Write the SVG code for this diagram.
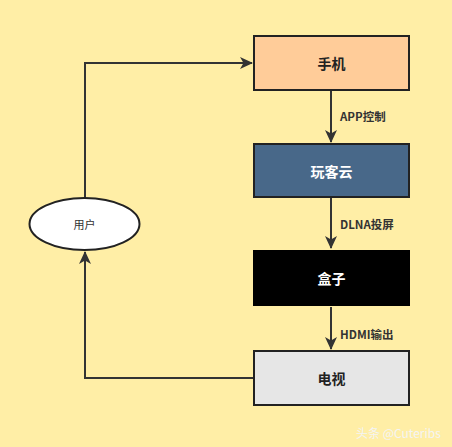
<svg xmlns="http://www.w3.org/2000/svg" width="452" height="447" viewBox="0 0 452 447">
<defs>
<style>
.box{stroke:#222;stroke-width:2}
.lbl{font-family:"Noto Sans CJK SC","Liberation Sans",sans-serif;font-weight:bold;font-size:14px;text-anchor:middle;dominant-baseline:central}
.elbl{font-family:"Noto Sans CJK SC","Liberation Sans",sans-serif;font-weight:bold;font-size:11.5px;fill:#333;dominant-baseline:central}
.edge{fill:none;stroke:#333;stroke-width:2}
.arrow{marker-end:url(#arr)}
</style>
<marker id="arr" viewBox="0 0 13 12" refX="12" refY="6" markerWidth="13" markerHeight="12" markerUnits="userSpaceOnUse" orient="auto">
<path d="M0,0 L13,6 L0,12 L3.5,6 Z" fill="#333"/>
</marker>
</defs>
<rect width="452" height="447" fill="#FFEEA6"/>
<g id="connectors">
<path class="edge arrow" d="M85,198 V63 H252"/>
<line class="edge arrow" x1="331" y1="91" x2="331" y2="142"/>
<line class="edge arrow" x1="331" y1="198" x2="331" y2="248"/>
<line class="edge arrow" x1="331" y1="307" x2="331" y2="349"/>
<path class="edge arrow" d="M253,378 H85 V252"/>
<text class="elbl" x="340" y="116">APP控制</text>
<text class="elbl" x="340" y="224">DLNA投屏</text>
<text class="elbl" x="340" y="334">HDMI输出</text>
</g>
<g id="node-phone">
<rect class="box" x="254" y="36" width="155" height="54" fill="#FFCC99"/>
<text class="lbl" x="331.5" y="63" fill="#222">手机</text>
</g>
<g id="node-wankeyun">
<rect class="box" x="254" y="144" width="155" height="53" fill="#486889"/>
<text class="lbl" x="331.5" y="171" fill="#fff">玩客云</text>
</g>
<g id="node-box">
<rect x="253" y="250" width="157" height="56" fill="#000"/>
<text class="lbl" x="331.5" y="278" fill="#fff">盒子</text>
</g>
<g id="node-tv">
<rect class="box" x="254" y="351" width="155" height="54" fill="#E6E6E6"/>
<text class="lbl" x="331.5" y="378" fill="#222">电视</text>
</g>
<g id="node-user">
<ellipse class="box" cx="84.5" cy="224" rx="55" ry="26" fill="#fff"/>
<text x="84.5" y="224" style="font-family:'Noto Sans CJK SC','Liberation Sans',sans-serif;font-size:11px;fill:#333;text-anchor:middle;dominant-baseline:central">用户</text>
</g>
<text x="356" y="432" style="font-family:'Noto Sans CJK SC','Liberation Sans',sans-serif;font-size:12px;fill:#f4f4f4;dominant-baseline:central">头条 @Cuteribs</text>
</svg>
